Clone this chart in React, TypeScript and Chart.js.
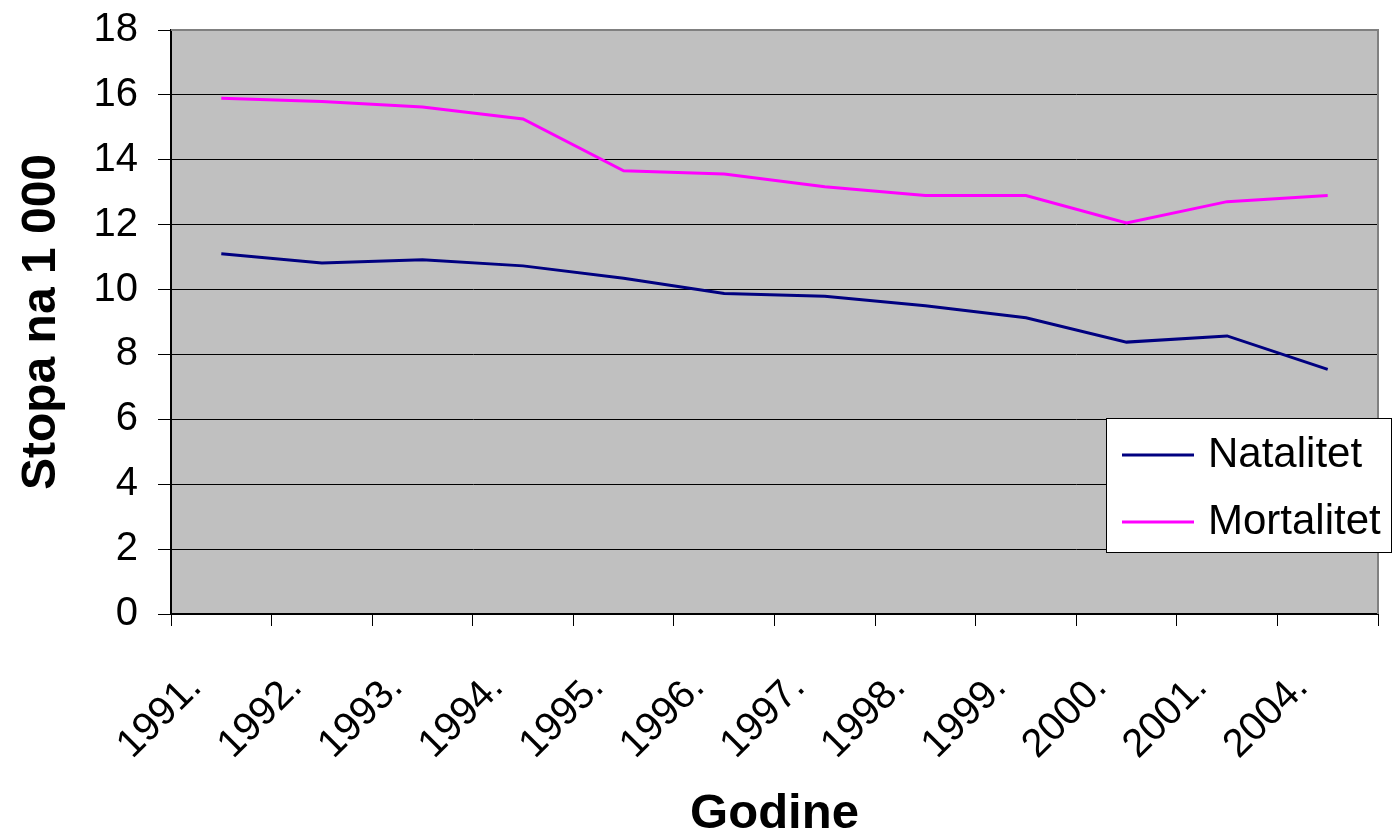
import React, { useEffect, useRef } from "react";
import { Chart, registerables } from "chart.js";

Chart.register(...registerables);

const categories = ["1991.", "1992.", "1993.", "1994.", "1995.", "1996.", "1997.", "1998.", "1999.", "2000.", "2001.", "2004."];
const natalitet = [11.1, 10.82, 10.92, 10.73, 10.35, 9.88, 9.79, 9.5, 9.13, 8.38, 8.57, 7.54];
const mortalitet = [15.9, 15.8, 15.63, 15.26, 13.66, 13.56, 13.17, 12.9, 12.9, 12.05, 12.71, 12.9];
const seriesNames = ["Natalitet", "Mortalitet"];
const seriesColors = ["#000080", "#FF00FF"];
const yTitle = "Stopa na 1 000";
const xTitle = "Godine";

const FONT = "'Liberation Sans', Arial, sans-serif";

const plotBg = {
  id: "plotBg",
  beforeDraw(chart: any) {
    const { ctx, chartArea } = chart;
    ctx.save();
    ctx.fillStyle = "#C0C0C0";
    ctx.fillRect(chartArea.left, chartArea.top, chartArea.right - chartArea.left, chartArea.bottom - chartArea.top);
    ctx.restore();
  },
  afterDatasetsDraw(chart: any) {
    const { ctx, chartArea } = chart;
    ctx.save();
    ctx.strokeStyle = "#808080";
    ctx.lineWidth = 2;
    ctx.beginPath();
    ctx.moveTo(chartArea.left, chartArea.top);
    ctx.lineTo(chartArea.right, chartArea.top);
    ctx.lineTo(chartArea.right, chartArea.bottom);
    ctx.stroke();
    ctx.restore();
  },
};

const boxLegend = {
  id: "boxLegend",
  afterDraw(chart: any) {
    const { ctx, chartArea } = chart;
    const x = chartArea.right - 272;
    const y = 418;
    const w = 286;
    const h = 135;
    ctx.save();
    ctx.fillStyle = "#FFFFFF";
    ctx.fillRect(x, y, w, h);
    ctx.strokeStyle = "#000000";
    ctx.lineWidth = 1;
    ctx.strokeRect(x + 0.5, y + 0.5, w - 1, h - 1);
    ctx.font = `42px ${FONT}`;
    ctx.textBaseline = "middle";
    ctx.textAlign = "left";
    chart.data.datasets.forEach((ds: any, i: number) => {
      const ly = y + 37 + i * 67;
      ctx.strokeStyle = ds.borderColor;
      ctx.lineWidth = 3;
      ctx.beginPath();
      ctx.moveTo(x + 16, ly);
      ctx.lineTo(x + 88, ly);
      ctx.stroke();
      ctx.fillStyle = "#000";
      ctx.fillText(ds.label, x + 102, ly);
    });
    ctx.restore();
  },
};

const zeroPad = (s: any) => {
  s.paddingTop = 0;
  s.paddingBottom = 0;
  s.paddingLeft = 0;
  s.paddingRight = 0;
};

export default function App() {
  const ref = useRef<HTMLCanvasElement>(null);
  useEffect(() => {
    if (!ref.current) return;
    const chart = new Chart(ref.current, {
      type: "line",
      data: {
        labels: categories,
        datasets: [
          { label: seriesNames[0], data: natalitet, borderColor: seriesColors[0], backgroundColor: seriesColors[0], borderWidth: 3, pointRadius: 0, tension: 0, fill: false },
          { label: seriesNames[1], data: mortalitet, borderColor: seriesColors[1], backgroundColor: seriesColors[1], borderWidth: 3, pointRadius: 0, tension: 0, fill: false },
        ],
      },
      options: {
        responsive: false,
        animation: false,
        layout: { padding: { top: 30, right: 15, left: 0, bottom: 0 } },
        plugins: { legend: { display: false }, tooltip: { enabled: false } },
        scales: {
          x: {
            type: "category",
            offset: true,
            afterFit: (s: any) => { s.height = 226; zeroPad(s); },
            grid: { display: true, drawOnChartArea: false, drawTicks: true, tickLength: 12, color: "#000", offset: true },
            border: { display: true, color: "#000", width: 2 },
            ticks: { minRotation: 45, maxRotation: 45, autoSkip: false, color: "#000", font: { family: FONT, size: 40 }, labelOffset: -26, padding: 38 },
            title: { display: true, text: xTitle, color: "#000", font: { family: FONT, size: 49, weight: "bold", lineHeight: 1 }, padding: { top: 0, bottom: 1 } },
          },
          y: {
            min: 0,
            max: 18,
            afterFit: (s: any) => { s.width = 171; zeroPad(s); },
            ticks: { stepSize: 2, color: "#000", font: { family: FONT, size: 40 }, padding: 20 },
            grid: { color: "#000", lineWidth: 1, tickLength: 13 },
            border: { display: true, color: "#000", width: 2 },
            title: { display: true, text: yTitle, color: "#000", font: { family: FONT, size: 48, weight: "bold", lineHeight: 1 }, padding: { top: 18, bottom: 0 } },
          },
        },
      },
      plugins: [plotBg, boxLegend],
    });
    return () => chart.destroy();
  }, []);
  return (
    <div style={{ position: "absolute", left: 0, top: 0, width: 1393, height: 840, background: "#fff" }}>
      <canvas ref={ref} width={1393} height={840} />
    </div>
  );
}
